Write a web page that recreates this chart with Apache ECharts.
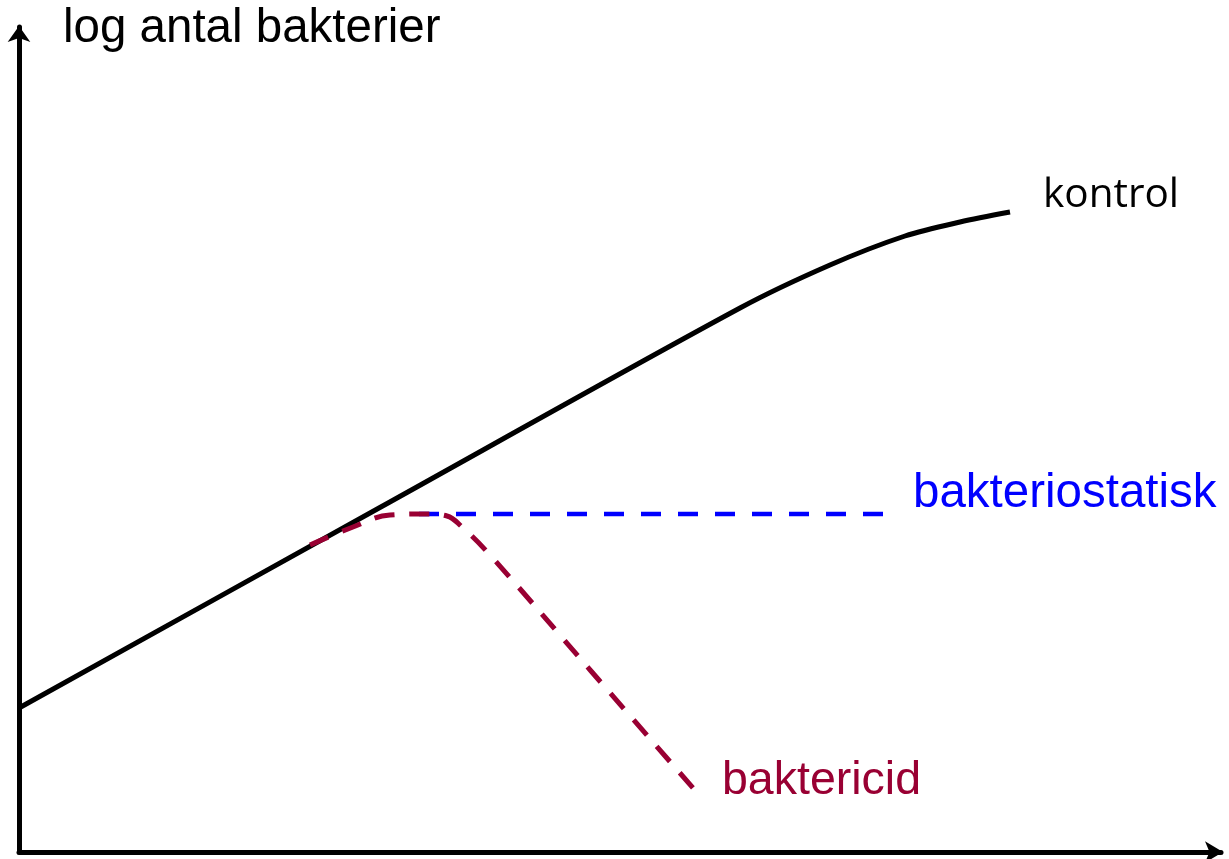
<!DOCTYPE html>
<html>
<head>
<meta charset="utf-8">
<script src="https://cdn.jsdelivr.net/npm/echarts@6/dist/echarts.min.js"></script>
<style>
  html, body { margin: 0; padding: 0; background: #fff; }
  #chart { width: 1229px; height: 859px; }
</style>
</head>
<body>
<div id="chart"></div>
<script>
// values (x: time, y: log antal bakterier)
const kontrolX = [0, 36, 72.1, 81.1, 88.6, 94.1, 99.1]
const kontrolY = [14.4, 34.4, 54.4, 58.7, 61.6, 63.0, 64.0]

const statiskX = [40, 86.9]
const statiskY = [33.8, 33.8]

const cidX = [29.1, 33.4, 37.1, 40.8, 42.8, 44.2, 47.1, 57.2, 67.4]
const cidY = [30.7, 32.5, 33.7, 33.8, 33.6, 32.6, 29.7, 18.1, 6.4]

const seriesNames = ['kontrol', 'bakteriostatisk', 'baktericid']
const yName = 'log antal bakterier'

const pairs = (xs, ys) => xs.map((x, i) => [x, ys[i]])

const font = '"Liberation Sans", Arial, Helvetica, sans-serif'

const chart = echarts.init(document.getElementById('chart'))

const endLabel = (color, family, size, offset) => ({
  show: true,
  formatter: '{a}',
  color,
  fontFamily: family,
  fontSize: size,
  distance: 0,
  offset
})

chart.setOption({
  animation: false,
  backgroundColor: '#fff',
  grid: { left: 19, right: 8, top: 27, bottom: 7 },
  xAxis: {
    type: 'value',
    min: 0,
    max: 120.2,
    axisLine: {
      show: true,
      symbol: ['none', 'arrow'],
      symbolSize: [16, 18],
      symbolOffset: [0, 2],
      lineStyle: { color: '#000', width: 5 }
    },
    axisTick: { show: false },
    axisLabel: { show: false },
    splitLine: { show: false }
  },
  yAxis: {
    type: 'value',
    min: 0,
    max: 82.5,
    name: yName,
    nameLocation: 'end',
    nameGap: -2,
    nameTextStyle: {
      color: '#000',
      fontFamily: font,
      fontSize: 47.5,
      align: 'left',
      verticalAlign: 'middle',
      padding: [0, 0, 0, 44]
    },
    axisLine: {
      show: true,
      symbol: ['none', 'arrow'],
      symbolSize: [17, 16],
      symbolOffset: [0, 1],
      lineStyle: { color: '#000', width: 5 }
    },
    axisTick: { show: false },
    axisLabel: { show: false },
    splitLine: { show: false }
  },
  series: [
    {
      name: seriesNames[0],
      type: 'line',
      data: pairs(kontrolX, kontrolY),
      smooth: 0.3,
      showSymbol: false,
      lineStyle: { color: '#000', width: 5 },
      endLabel: endLabel('#000', '"Open Sans", sans-serif', 40.5, [33, -17]),
      z: 2
    },
    {
      name: seriesNames[1],
      type: 'line',
      data: pairs(statiskX, statiskY),
      showSymbol: false,
      lineStyle: { color: '#0000ff', width: 4.5, type: [20, 17] },
      endLabel: endLabel('#0000ff', font, 47.5, [25, -20]),
      z: 3
    },
    {
      name: seriesNames[2],
      type: 'line',
      data: pairs(cidX, cidY),
      smooth: 0.4,
      showSymbol: false,
      lineStyle: { color: '#990033', width: 5, type: [20, 15] },
      endLabel: endLabel('#990033', font, 46.5, [29, -7]),
      z: 4
    }
  ]
})
</script>
</body>
</html>
